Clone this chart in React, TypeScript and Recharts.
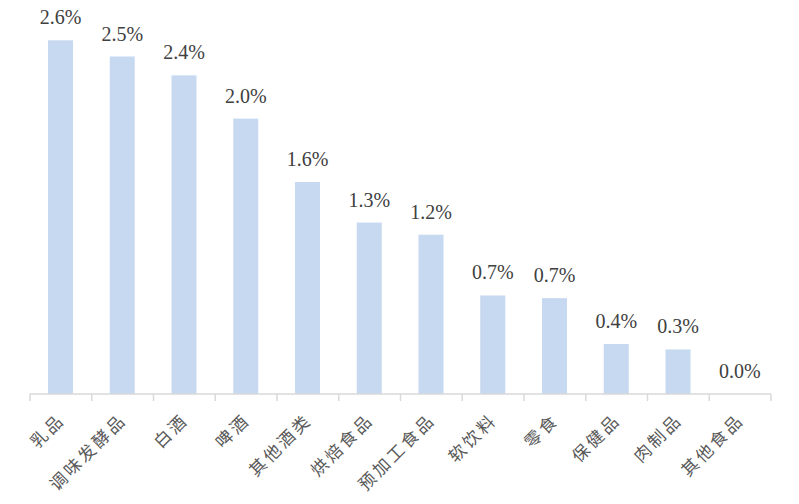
import { BarChart, Bar, XAxis, YAxis } from "recharts";

const categories = ["乳品", "调味发酵品", "白酒", "啤酒", "其他酒类", "烘焙食品", "预加工食品", "软饮料", "零食", "保健品", "肉制品", "其他食品"];
// bar heights (labels differ slightly from the rounded heights)
const values = [2.62, 2.5, 2.36, 2.04, 1.57, 1.27, 1.18, 0.73, 0.71, 0.37, 0.33, 0.0];
const labels = ["2.6%", "2.5%", "2.4%", "2.0%", "1.6%", "1.3%", "1.2%", "0.7%", "0.7%", "0.4%", "0.3%", "0.0%"];

const data = categories.map((name, i) => ({ name, value: values[i], label: labels[i] }));

const W = 799;
const H = 504;
const M = { top: 16, right: 28, bottom: 10, left: 30 };
const BAND = (W - M.left - M.right) / categories.length;

const CategoryTick = (props: any) => {
  const { x, y, payload, index } = props;
  const left = x - BAND / 2;
  const tx = x + 5;
  const ty = y + 19;
  return (
    <g>
      <line x1={left} y1={y - 8} x2={left} y2={y - 1} stroke="#D9D9D9" strokeWidth={1.5} />
      {index === categories.length - 1 && (
        <line x1={left + BAND} y1={y - 8} x2={left + BAND} y2={y - 1} stroke="#D9D9D9" strokeWidth={1.5} />
      )}
      <text
        x={tx}
        y={ty}
        textAnchor="end"
        transform={`rotate(-45, ${tx}, ${ty})`}
        fill="#595959"
        style={{ fontSize: 17, letterSpacing: 3, fontFamily: "'Noto Sans CJK SC', sans-serif" }}
      >
        {payload.value}
      </text>
    </g>
  );
};

// bar plus its value label, so the zero bar still gets its label
const BarWithLabel = (props: any) => {
  const { x, y, width, height, index } = props;
  return (
    <g>
      {height > 0 && <rect x={x} y={y} width={width} height={height} fill="#C6D9F1" />}
      <text
        x={x + width / 2}
        y={y - 16}
        textAnchor="middle"
        fill="#404040"
        style={{ fontSize: 20, fontFamily: "'Times New Roman', 'Liberation Serif', serif" }}
      >
        {labels[index]}
      </text>
    </g>
  );
};

export default function App() {
  return (
    <div style={{ width: W, height: H, margin: -8, background: "#fff" }}>
      <BarChart width={W} height={H} data={data} margin={M}>
        <XAxis
          dataKey="name"
          interval={0}
          height={100}
          axisLine={{ stroke: "#D9D9D9", strokeWidth: 1.5 }}
          tickLine={false}
          tick={<CategoryTick />}
        />
        <YAxis hide domain={[0, 2.8]} />
        <Bar dataKey="value" fill="#C6D9F1" barSize={25} shape={<BarWithLabel />} isAnimationActive={false} />
      </BarChart>
    </div>
  );
}
